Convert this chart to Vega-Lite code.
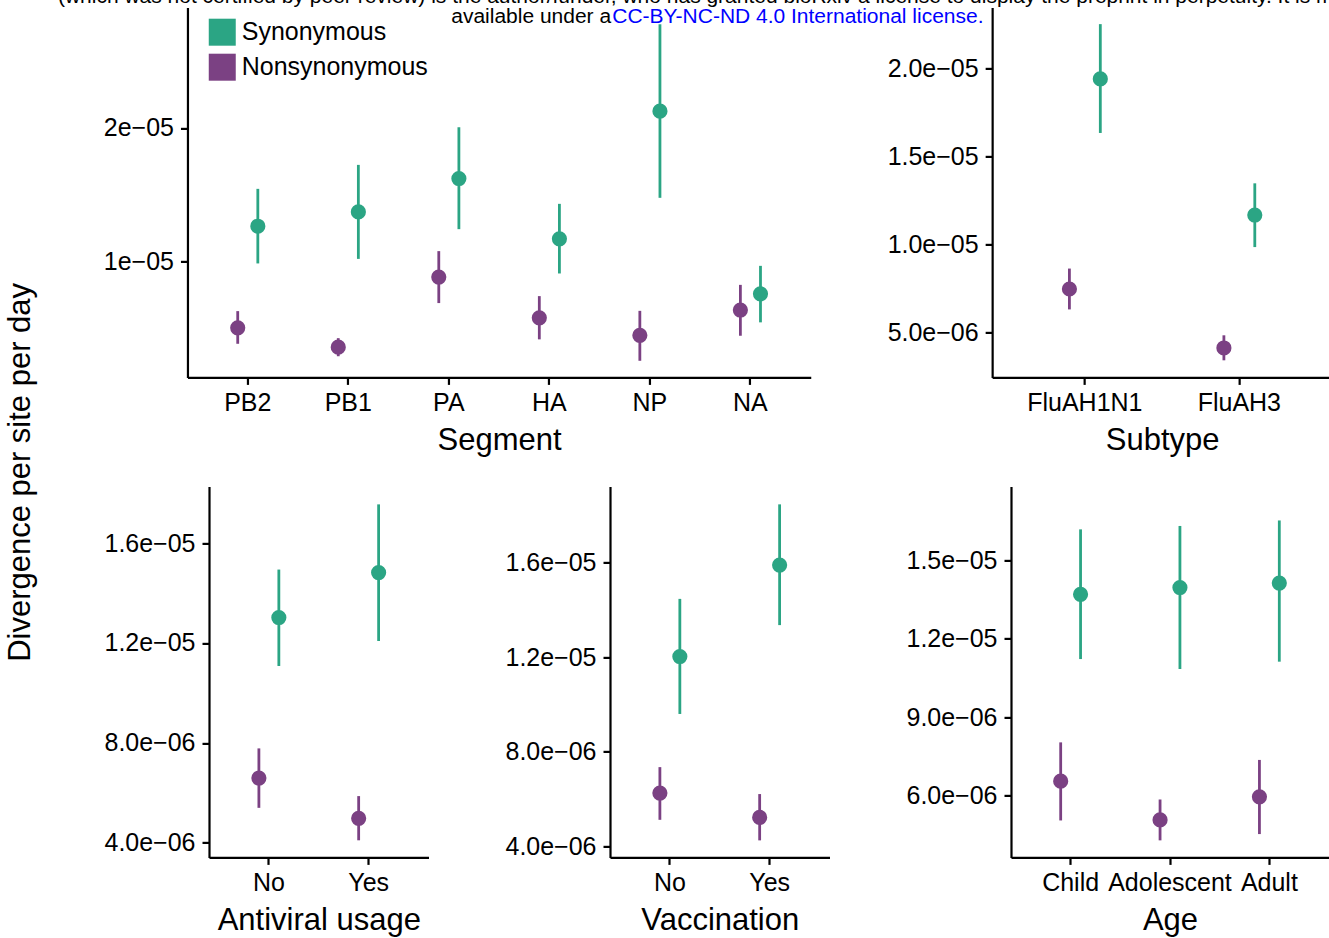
{
  "$schema": "https://vega.github.io/schema/vega-lite/v6.json",
  "padding": {"left": 0, "top": -13.6, "right": 0, "bottom": 0},
  "background": "white",
  "config": {
    "font": "Liberation Sans",
    "view": {"stroke": null},
    "axis": {"grid": false, "domainColor": "black", "domainWidth": 2.2, "tickColor": "black", "tickWidth": 2.2, "tickSize": 7, "labelColor": "black", "labelFont": "Liberation Sans", "labelFontSize": 25, "titleFont": "Liberation Sans", "titleFontSize": 31, "titleFontWeight": "normal", "titleColor": "black", "labelPadding": 7},
    "axisX": {"labelAngle": 0, "labelPadding": 6.5, "titlePadding": 10}
  },
  "datasets": {
    "est": [
      {"panel": "Segment", "group": "PB2", "type": "Synonymous", "mean": 12.66e-6, "lower": 9.88e-6, "upper": 15.45e-6},
      {"panel": "Segment", "group": "PB2", "type": "Nonsynonymous", "mean": 5.07e-6, "lower": 3.88e-6, "upper": 6.32e-6},
      {"panel": "Segment", "group": "PB1", "type": "Synonymous", "mean": 13.73e-6, "lower": 10.22e-6, "upper": 17.24e-6},
      {"panel": "Segment", "group": "PB1", "type": "Nonsynonymous", "mean": 3.63e-6, "lower": 2.95e-6, "upper": 4.30e-6},
      {"panel": "Segment", "group": "PA", "type": "Synonymous", "mean": 16.22e-6, "lower": 12.44e-6, "upper": 20.05e-6},
      {"panel": "Segment", "group": "PA", "type": "Nonsynonymous", "mean": 8.86e-6, "lower": 6.92e-6, "upper": 10.80e-6},
      {"panel": "Segment", "group": "HA", "type": "Synonymous", "mean": 11.72e-6, "lower": 9.13e-6, "upper": 14.33e-6},
      {"panel": "Segment", "group": "HA", "type": "Nonsynonymous", "mean": 5.82e-6, "lower": 4.21e-6, "upper": 7.44e-6},
      {"panel": "Segment", "group": "NP", "type": "Synonymous", "mean": 21.25e-6, "lower": 14.78e-6, "upper": 27.74e-6},
      {"panel": "Segment", "group": "NP", "type": "Nonsynonymous", "mean": 4.51e-6, "lower": 2.61e-6, "upper": 6.34e-6},
      {"panel": "Segment", "group": "NA", "type": "Synonymous", "mean": 7.61e-6, "lower": 5.48e-6, "upper": 9.70e-6},
      {"panel": "Segment", "group": "NA", "type": "Nonsynonymous", "mean": 6.40e-6, "lower": 4.48e-6, "upper": 8.28e-6},
      {"panel": "Subtype", "group": "FluAH1N1", "type": "Synonymous", "mean": 19.41e-6, "lower": 16.34e-6, "upper": 22.52e-6},
      {"panel": "Subtype", "group": "FluAH1N1", "type": "Nonsynonymous", "mean": 7.48e-6, "lower": 6.32e-6, "upper": 8.64e-6},
      {"panel": "Subtype", "group": "FluAH3", "type": "Synonymous", "mean": 11.68e-6, "lower": 9.86e-6, "upper": 13.48e-6},
      {"panel": "Subtype", "group": "FluAH3", "type": "Nonsynonymous", "mean": 4.13e-6, "lower": 3.43e-6, "upper": 4.85e-6},
      {"panel": "Antiviral", "group": "No", "type": "Synonymous", "mean": 13.02e-6, "lower": 11.08e-6, "upper": 14.94e-6},
      {"panel": "Antiviral", "group": "No", "type": "Nonsynonymous", "mean": 6.59e-6, "lower": 5.40e-6, "upper": 7.78e-6},
      {"panel": "Antiviral", "group": "Yes", "type": "Synonymous", "mean": 14.82e-6, "lower": 12.08e-6, "upper": 17.55e-6},
      {"panel": "Antiviral", "group": "Yes", "type": "Nonsynonymous", "mean": 4.98e-6, "lower": 4.10e-6, "upper": 5.87e-6},
      {"panel": "Vaccination", "group": "No", "type": "Synonymous", "mean": 12.02e-6, "lower": 9.59e-6, "upper": 14.46e-6},
      {"panel": "Vaccination", "group": "No", "type": "Nonsynonymous", "mean": 6.24e-6, "lower": 5.11e-6, "upper": 7.34e-6},
      {"panel": "Vaccination", "group": "Yes", "type": "Synonymous", "mean": 15.89e-6, "lower": 13.35e-6, "upper": 18.46e-6},
      {"panel": "Vaccination", "group": "Yes", "type": "Nonsynonymous", "mean": 5.21e-6, "lower": 4.24e-6, "upper": 6.20e-6},
      {"panel": "Age", "group": "Child", "type": "Synonymous", "mean": 13.69e-6, "lower": 11.22e-6, "upper": 16.17e-6},
      {"panel": "Age", "group": "Child", "type": "Nonsynonymous", "mean": 6.56e-6, "lower": 5.06e-6, "upper": 8.04e-6},
      {"panel": "Age", "group": "Adolescent", "type": "Synonymous", "mean": 13.95e-6, "lower": 10.84e-6, "upper": 16.30e-6},
      {"panel": "Age", "group": "Adolescent", "type": "Nonsynonymous", "mean": 5.08e-6, "lower": 4.30e-6, "upper": 5.86e-6},
      {"panel": "Age", "group": "Adult", "type": "Synonymous", "mean": 14.12e-6, "lower": 11.12e-6, "upper": 16.51e-6},
      {"panel": "Age", "group": "Adult", "type": "Nonsynonymous", "mean": 5.96e-6, "lower": 4.54e-6, "upper": 7.37e-6}
    ]
  },
  "title": {"text": "(which was not certified by peer review) is the author/funder, who has granted bioRxiv a license to display the preprint in perpetuity. It is made", "anchor": "middle", "frame": "bounds", "dx": 38, "offset": -18, "font": "Liberation Sans", "fontSize": 21, "fontWeight": "normal", "color": "black", "baseline": "alphabetic"},
  "spacing": 61,
  "resolve": {"scale": {"x": "independent", "y": "independent", "xOffset": "independent", "color": "shared"}, "legend": {"color": "independent"}},
  "hconcat": [
    {
      "width": 42, "height": 930,
      "data": {"values": [{"label": "Divergence per site per day"}]},
      "mark": {"type": "text", "angle": 270, "fontSize": 31, "font": "Liberation Sans", "color": "black", "align": "center", "baseline": "middle"},
      "encoding": {"text": {"field": "label", "type": "nominal"}}
    },
    {
      "title": {"text": "available under a", "anchor": "start", "frame": "bounds", "dx": 348, "offset": -38, "font": "Liberation Sans", "fontSize": 21, "fontWeight": "normal", "color": "black", "baseline": "alphabetic"},
      "center": true,
      "spacing": 30,
      "resolve": {"scale": {"x": "independent", "y": "independent", "xOffset": "independent", "color": "shared"}, "legend": {"color": "independent"}},
      "vconcat": [
        {
          "title": {"text": "CC-BY-NC-ND 4.0 International license.", "anchor": "start", "frame": "bounds", "dx": 509, "offset": -37, "font": "Liberation Sans", "fontSize": 21, "fontWeight": "normal", "color": "#0000ff", "baseline": "alphabetic"},
          "spacing": 74.7,
          "resolve": {"scale": {"x": "independent", "y": "independent", "xOffset": "independent", "color": "shared"}, "legend": {"color": "independent"}},
          "hconcat": [
            {
              "width": 623.3, "height": 370,
              "data": {"name": "est"},
              "transform": [{"filter": "datum.panel === 'Segment'"}],
              "encoding": {
                "x": {"field": "group", "type": "nominal", "sort": ["PB2", "PB1", "PA", "HA", "NP", "NA"], "scale": {"type": "band", "paddingInner": 0.6, "paddingOuter": 0.4}, "axis": {"title": "Segment"}},
                "xOffset": {"field": "type", "type": "nominal", "sort": ["Nonsynonymous", "Synonymous"], "scale": {"type": "point", "padding": 0.5}},
                "color": {"field": "type", "type": "nominal", "scale": {"domain": ["Synonymous", "Nonsynonymous"], "range": ["#2BA584", "#7B4183"]}, "legend": {"title": null, "orient": "none", "legendX": 21.3, "legendY": 11.3, "symbolType": "square", "symbolSize": 729, "symbolStrokeWidth": 0, "symbolOpacity": 1, "labelFont": "Liberation Sans", "labelFontSize": 25, "labelColor": "black", "labelOffset": 6, "labelLimit": 400, "rowPadding": 8, "padding": 0}}
              },
              "layer": [
                {"mark": {"type": "rule", "strokeWidth": 2.8}, "encoding": {"y": {"field": "lower", "type": "quantitative", "scale": {"domain": [1.37e-6, 2.9e-5], "nice": false, "zero": false}, "axis": {"title": null, "values": [1e-5, 2e-5], "labelExpr": "format(datum.value * 1e5, '.0f') + 'e\u221205'"}}, "y2": {"field": "upper"}}},
                {"mark": {"type": "circle", "size": 230, "opacity": 1}, "encoding": {"y": {"field": "mean", "type": "quantitative"}}}
              ]
            },
            {
              "width": 358.4, "height": 370,
              "data": {"name": "est"},
              "transform": [{"filter": "datum.panel === 'Subtype'"}],
              "encoding": {
                "x": {"field": "group", "type": "nominal", "sort": ["FluAH1N1", "FluAH3"], "scale": {"type": "band", "paddingInner": 0.6, "paddingOuter": 0.46, "align": 0.435}, "axis": {"title": "Subtype", "titleX": 170}},
                "xOffset": {"field": "type", "type": "nominal", "sort": ["Nonsynonymous", "Synonymous"], "scale": {"type": "point", "padding": 0.5}},
                "color": {"field": "type", "type": "nominal", "scale": {"domain": ["Synonymous", "Nonsynonymous"], "range": ["#2BA584", "#7B4183"]}, "legend": null}
              },
              "layer": [
                {"mark": {"type": "rule", "strokeWidth": 2.8}, "encoding": {"y": {"field": "lower", "type": "quantitative", "scale": {"domain": [2.46e-6, 2.347e-5], "nice": false, "zero": false}, "axis": {"title": null, "values": [5e-6, 1e-5, 1.5e-5, 2e-5], "labelExpr": "datum.value < 9.9e-6 ? format(datum.value * 1e6, '.1f') + 'e\u221206' : format(datum.value * 1e5, '.1f') + 'e\u221205'"}}, "y2": {"field": "upper"}}},
                {"mark": {"type": "circle", "size": 230, "opacity": 1}, "encoding": {"y": {"field": "mean", "type": "quantitative"}}}
              ]
            }
          ]
        },
        {
          "spacing": 75,
          "resolve": {"scale": {"x": "independent", "y": "independent", "xOffset": "independent", "color": "shared"}, "legend": {"color": "independent"}},
          "hconcat": [
            {
              "width": 219.5, "height": 371,
              "data": {"name": "est"},
              "transform": [{"filter": "datum.panel === 'Antiviral'"}],
              "encoding": {
                "x": {"field": "group", "type": "nominal", "sort": ["No", "Yes"], "scale": {"type": "band", "paddingInner": 0.6, "paddingOuter": 0.4}, "axis": {"title": "Antiviral usage"}},
                "xOffset": {"field": "type", "type": "nominal", "sort": ["Nonsynonymous", "Synonymous"], "scale": {"type": "point", "padding": 0.5}},
                "color": {"field": "type", "type": "nominal", "scale": {"domain": ["Synonymous", "Nonsynonymous"], "range": ["#2BA584", "#7B4183"]}, "legend": null}
              },
              "layer": [
                {"mark": {"type": "rule", "strokeWidth": 2.8}, "encoding": {"y": {"field": "lower", "type": "quantitative", "scale": {"domain": [3.416e-6, 1.827e-5], "nice": false, "zero": false}, "axis": {"title": null, "values": [4e-6, 8e-6, 1.2e-5, 1.6e-5], "labelExpr": "datum.value < 9.9e-6 ? format(datum.value * 1e6, '.1f') + 'e\u221206' : format(datum.value * 1e5, '.1f') + 'e\u221205'"}}, "y2": {"field": "upper"}}},
                {"mark": {"type": "circle", "size": 230, "opacity": 1}, "encoding": {"y": {"field": "mean", "type": "quantitative"}}}
              ]
            },
            {
              "width": 219.5, "height": 371,
              "data": {"name": "est"},
              "transform": [{"filter": "datum.panel === 'Vaccination'"}],
              "encoding": {
                "x": {"field": "group", "type": "nominal", "sort": ["No", "Yes"], "scale": {"type": "band", "paddingInner": 0.6, "paddingOuter": 0.4}, "axis": {"title": "Vaccination"}},
                "xOffset": {"field": "type", "type": "nominal", "sort": ["Nonsynonymous", "Synonymous"], "scale": {"type": "point", "padding": 0.5}},
                "color": {"field": "type", "type": "nominal", "scale": {"domain": ["Synonymous", "Nonsynonymous"], "range": ["#2BA584", "#7B4183"]}, "legend": null}
              },
              "layer": [
                {"mark": {"type": "rule", "strokeWidth": 2.8}, "encoding": {"y": {"field": "lower", "type": "quantitative", "scale": {"domain": [3.52e-6, 1.922e-5], "nice": false, "zero": false}, "axis": {"title": null, "values": [4e-6, 8e-6, 1.2e-5, 1.6e-5], "labelExpr": "datum.value < 9.9e-6 ? format(datum.value * 1e6, '.1f') + 'e\u221206' : format(datum.value * 1e5, '.1f') + 'e\u221205'"}}, "y2": {"field": "upper"}}},
                {"mark": {"type": "circle", "size": 230, "opacity": 1}, "encoding": {"y": {"field": "mean", "type": "quantitative"}}}
              ]
            },
            {
              "width": 318, "height": 371,
              "data": {"name": "est"},
              "transform": [{"filter": "datum.panel === 'Age'"}],
              "encoding": {
                "x": {"field": "group", "type": "nominal", "sort": ["Child", "Adolescent", "Adult"], "scale": {"type": "band", "paddingInner": 0.6, "paddingOuter": 0.4}, "axis": {"title": "Age"}},
                "xOffset": {"field": "type", "type": "nominal", "sort": ["Nonsynonymous", "Synonymous"], "scale": {"type": "point", "padding": 0.5}},
                "color": {"field": "type", "type": "nominal", "scale": {"domain": ["Synonymous", "Nonsynonymous"], "range": ["#2BA584", "#7B4183"]}, "legend": null}
              },
              "layer": [
                {"mark": {"type": "rule", "strokeWidth": 2.8}, "encoding": {"y": {"field": "lower", "type": "quantitative", "scale": {"domain": [3.65e-6, 1.781e-5], "nice": false, "zero": false}, "axis": {"title": null, "values": [6e-6, 9e-6, 1.2e-5, 1.5e-5], "labelExpr": "datum.value < 9.9e-6 ? format(datum.value * 1e6, '.1f') + 'e\u221206' : format(datum.value * 1e5, '.1f') + 'e\u221205'"}}, "y2": {"field": "upper"}}},
                {"mark": {"type": "circle", "size": 230, "opacity": 1}, "encoding": {"y": {"field": "mean", "type": "quantitative"}}}
              ]
            }
          ]
        }
      ]
    }
  ]
}
